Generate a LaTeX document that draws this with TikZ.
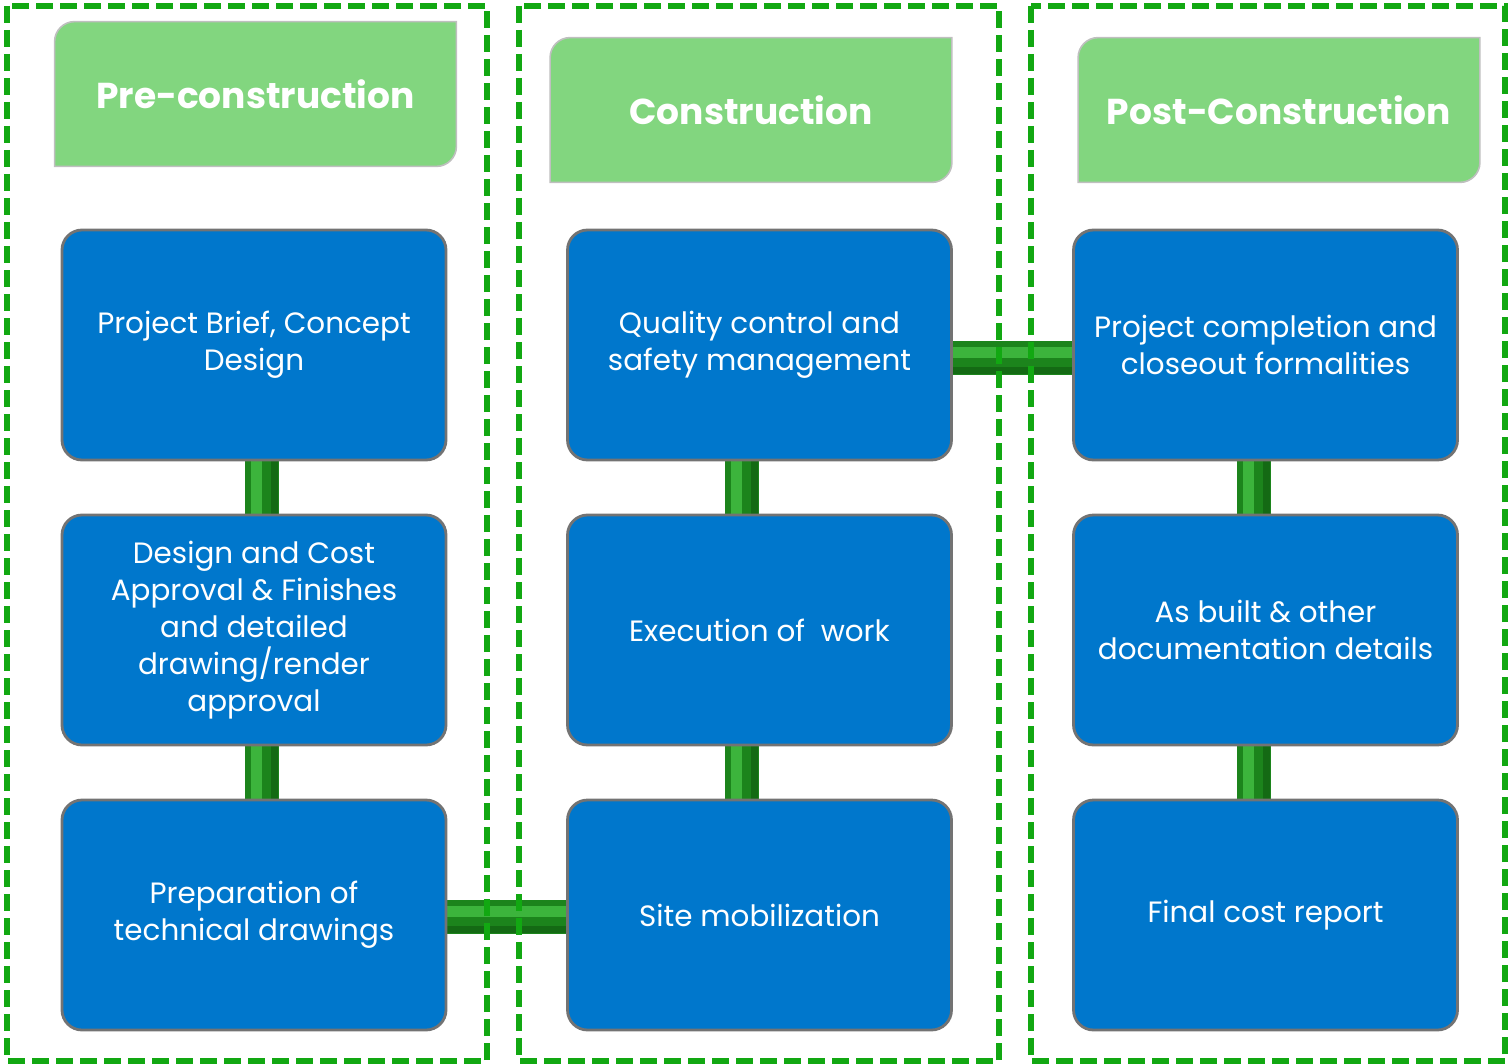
\documentclass[tikz,border=0pt]{standalone}
\usepackage{fontspec}
\setmainfont{Poppins}
\usetikzlibrary{backgrounds}
\definecolor{boxblue}{HTML}{0077CC}
\definecolor{hdrgreen}{HTML}{82D67F}
\definecolor{dashgreen}{HTML}{12A812}
\definecolor{bardark}{HTML}{1C841C}
\definecolor{barlight}{HTML}{3CB43C}
\definecolor{barshade}{HTML}{146A14}
\tikzset{
  stepbox/.style={draw=black!55, line width=1.4pt, fill=boxblue, rounded corners=10pt,
    minimum width=192pt, minimum height=115pt, inner sep=0pt, text=white,
    align=center, font=\fontsize{14.7}{18.5}\selectfont},
  hdrnode/.style={minimum width=200.5pt, minimum height=72pt, inner sep=0pt, text=white,
    font=\fontsize{18}{22}\selectfont\bfseries},
  hdrfill/.style={fill=hdrgreen, draw=black!25, line width=0.8pt},
  barbase/.style={line width=17pt, bardark},
  barhi/.style={line width=5.5pt, barlight},
  barsh/.style={line width=3.5pt, barshade},
  frame/.style={dashgreen, line width=3pt, dash pattern=on 8.5pt off 3.5pt}
}
\newcommand{\hdrshape}[1]{%
  \path[hdrfill] (#1.south west) -- ([yshift=-10pt]#1.north west)
    arc[start angle=180,end angle=90,radius=10pt] -- (#1.north east)
    -- ([yshift=10pt]#1.south east) arc[start angle=0,end angle=-90,radius=10pt] -- cycle;}
\begin{document}
\begin{tikzpicture}[x=0.5pt,y=-0.5pt]
\useasboundingbox (0,0) rectangle (1508,1064);
% headers
\node[hdrnode] (h1) at (255.5,94) {};
\node[hdrnode] (h2) at (751,110) {};
\node[hdrnode] (h3) at (1279,110) {};
\hdrshape{h1}\hdrshape{h2}\hdrshape{h3}
\node[hdrnode] at (h1) {Pre-construction};
\node[hdrnode] at (h2) {Construction};
\node[hdrnode] at (h3) {Post-Construction};
% boxes
\node[stepbox] (b11) at (254,345) {Project Brief, Concept\\Design};
\node[stepbox] (b12) at (254,630) {Design and Cost\\Approval \& Finishes\\and detailed\\drawing/render\\approval};
\node[stepbox] (b13) at (254,915) {Preparation of\\technical drawings};
\node[stepbox] (b21) at (759.5,345) {Quality control and\\safety management};
\node[stepbox] (b22) at (759.5,630) {Execution of\ \ work};
\node[stepbox] (b23) at (759.5,915) {Site mobilization};
\node[stepbox] (b31) at (1265.5,345) {Project completion and\\closeout formalities};
\node[stepbox] (b32) at (1265.5,630) {As built \& other\\documentation details};
\node[stepbox] (b33) at (1265.5,915) {Final cost report};
% connectors
\begin{scope}[on background layer]
\foreach \a/\b/\s in {b11/b12/4pt, b12/b13/4pt, b21/b22/-8.75pt, b22/b23/-8.75pt, b31/b32/-5.75pt, b32/b33/-5.75pt}{
  \draw[barbase] ([xshift=\s]\a.south) -- ([xshift=\s]\b.north);
  \draw[barhi] ([xshift=\s-3pt]\a.south) -- ([xshift=\s-3pt]\b.north);
  \draw[barsh] ([xshift=\s+6pt]\a.south) -- ([xshift=\s+6pt]\b.north);
}
\foreach \a/\b/\s in {b13/b23/-1pt, b21/b31/-6.5pt}{
  \draw[barbase] ([yshift=\s]\a.east) -- ([yshift=\s]\b.west);
  \draw[barhi] ([yshift=\s+3pt]\a.east) -- ([yshift=\s+3pt]\b.west);
  \draw[barsh] ([yshift=\s-6pt]\a.east) -- ([yshift=\s-6pt]\b.west);
}
\end{scope}
% frames
\draw[frame] (7,6) rectangle (487,1061);
\draw[frame] (519,6) rectangle (999,1061);
\draw[frame] (1031,6) rectangle (1505,1061);
\end{tikzpicture}
\end{document}
